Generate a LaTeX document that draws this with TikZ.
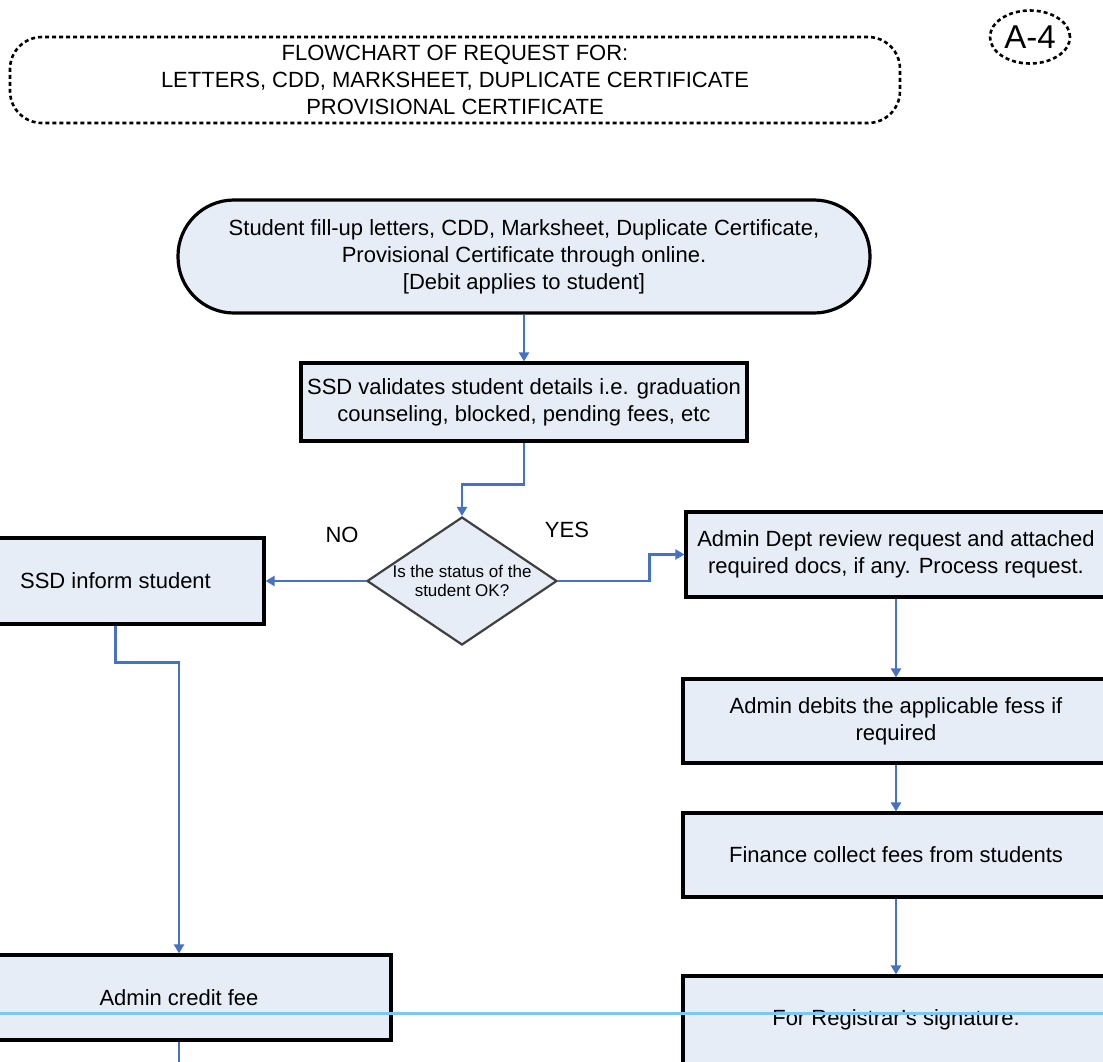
\documentclass[tikz,border=0pt]{standalone}
\usepackage{fontspec}
\setmainfont{Liberation Sans}
\usetikzlibrary{arrows.meta,shapes.geometric}
\definecolor{boxfill}{RGB}{230,237,247}
\definecolor{flow}{RGB}{70,114,196}
\definecolor{guide}{RGB}{125,200,236}
\begin{document}
\begin{tikzpicture}[x=1pt,y=-1pt,
  txt/.style={font=\fontsize{22}{27}\selectfont, align=center},
  procbox/.style={txt, draw=black, line width=3.2pt, fill=boxfill, rectangle, inner sep=0pt},
  flowline/.style={draw=flow, line width=2.8pt},
  flowarrow/.style={flowline, -{Triangle[length=9pt,width=10pt]}},
]
\clip (0,0) rectangle (1103,1061);
\fill[white] (0,0) rectangle (1103,1061);

% heading
\node[txt, draw=black, dashed, dash pattern=on 4pt off 3pt, line width=2.6pt,
      rounded corners=32pt, minimum width=890pt, minimum height=86pt, inner sep=0pt]
  (title) at (455,80)
  {FLOWCHART OF REQUEST FOR:\\LETTERS, CDD, MARKSHEET, DUPLICATE CERTIFICATE\\PROVISIONAL CERTIFICATE};
\node[draw=black, dashed, dash pattern=on 4pt off 3pt, line width=2.6pt, ellipse,
      minimum width=80pt, minimum height=53pt, inner sep=0pt,
      font=\fontsize{33}{35}\selectfont] (tag) at (1030,37) {A-4};

% main flow
\node[procbox, rounded corners=56pt, minimum width=692pt, minimum height=113pt]
  (start) at (524,256.5)
  {Student fill-up letters, CDD, Marksheet, Duplicate Certificate,\\Provisional Certificate through online.\\{[}Debit applies to student{]}};
\node[procbox, minimum width=446pt, minimum height=78pt] (validate) at (524,402)
  {SSD validates student details i.e. graduation\\counseling, blocked, pending fees, etc};

% decision: fixed-size diamond with its question set on top
\node[diamond, draw=black!75, line width=2.2pt, fill=boxfill, minimum width=190pt,
      minimum height=128pt, inner sep=0pt] (check) at (462,581) {};
\node[align=center, font=\fontsize{17}{19}\selectfont, inner sep=0pt] (checktext) at (check)
  {Is the status of the\\student OK?};
\node[txt] (nolabel) at (342,535) {NO};
\node[txt] (yeslabel) at (567,530) {YES};

% refusal branch
\node[procbox, minimum width=297pt, minimum height=86pt] (inform) at (115.5,581)
  {SSD inform student};
\node[procbox, minimum width=424pt, minimum height=85pt] (credit) at (179,997.5)
  {Admin credit fee};

% approval branch
\node[procbox, minimum width=420pt, minimum height=85pt] (review) at (896,554.5)
  {Admin Dept review request and attached\\required docs, if any. Process request.};
\node[procbox, minimum width=426pt, minimum height=84pt] (debit) at (896,721)
  {Admin debits the applicable fess if\\required};
\node[procbox, minimum width=426pt, minimum height=84pt] (finance) at (896,855)
  {Finance collect fees from students};
\node[procbox, minimum width=426pt, minimum height=88pt] (registrar) at (896,1020)
  {For Registrar's signature.};

% connectors
\draw[flowarrow] (start) -- (validate);
\draw[flowarrow] (validate.south) -- ++(0,42) -| (check.north);
\draw[flowarrow] (check.west) -- (inform.east);
\draw[flowarrow] (check.east) -- ++(91,0) |- (review.west);
\draw[flowarrow] (review) -- (debit);
\draw[flowarrow] (debit) -- (finance);
\draw[flowarrow] (finance) -- (registrar);
\draw[flowarrow] (inform.south) -- ++(0,37) -| (credit.north);
\draw[flowline] (credit.south) -- ++(0,30);

% horizontal rule across the sheet
\coordinate (ruleL) at (0,1013);
\coordinate (ruleR) at (1103,1013);
\draw[guide, line width=3pt] (ruleL) -- (ruleR);
\end{tikzpicture}
\end{document}
